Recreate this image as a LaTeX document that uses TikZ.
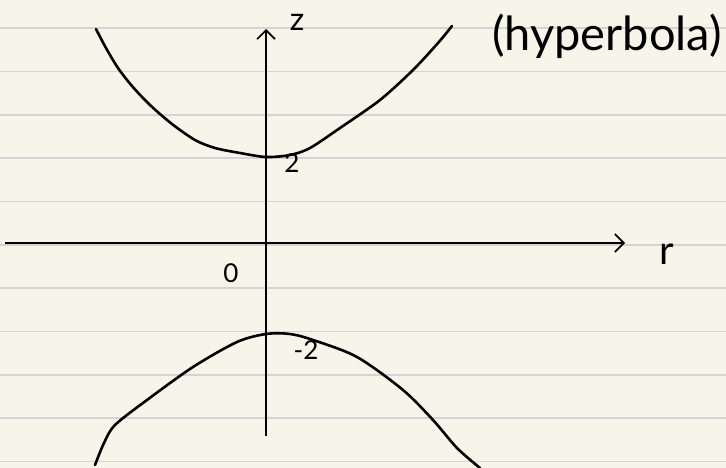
\documentclass[tikz,border=0pt]{standalone}
\usepackage{fontspec}
\setmainfont{Lato}
\usetikzlibrary{arrows.meta}
\definecolor{paper}{HTML}{F7F5EA}
\definecolor{rule}{HTML}{D4D4D4}
\tikzset{
  ink/.style={line width=2.6pt, black, line cap=round, line join=round},
  axis/.style={line width=1.8pt, black, -{Straight Barb[length=9pt,width=18pt,line width=1.6pt]}},
  hand/.style={inner sep=0pt, font=\fontsize{#1}{#1}\selectfont},
}
\begin{document}
\begin{tikzpicture}[x=1pt,y=-1pt]
\fill[paper] (0,0) rectangle (726,468);
\useasboundingbox (0,0) rectangle (726,468);
\foreach \k in {0,...,10} {
  \draw[rule, line width=1.6pt] (0,{28.3+43.33*\k}) -- (726,{28.3+43.33*\k});
}
% axes
\coordinate (xs) at (5,243);
\coordinate (xe) at (625,243);
\coordinate (ys) at (266,436);
\coordinate (ye) at (266,29);
\draw[axis] (xs) -- (xe);
\draw[axis] (ys) -- (ye);
% hyperbola upper branch
\draw[ink] plot[smooth, tension=0.5] coordinates {
  (96,29) (106,48) (118,68) (132,86) (150,105) (172,124) (195,140) (215,148)
  (240,153) (266,157) (290,155) (310,148) (340,128) (380,100) (413,70)
  (438,43) (452,26)};
% lower branch
\draw[ink] plot[smooth, tension=0.5] coordinates {
  (95,465) (104,443) (115,425) (147,400) (193,367) (237,342) (266,334)
  (290,334) (313,340) (357,357) (403,390) (433,420) (457,448) (480,468)};
% labels
\node[hand=32] (zl) at (297,22) {z};
\node[hand=47] (hyp) at (607,36) {(hyperbola)};
\node[hand=40] (rl) at (667,254) {r};
\node[hand=26] (ol) at (231,273) {0};
\node[hand=26] (two) at (292,163) {2};
\node[hand=26] (mtwo) at (306,350) {-2};
\end{tikzpicture}
\end{document}
